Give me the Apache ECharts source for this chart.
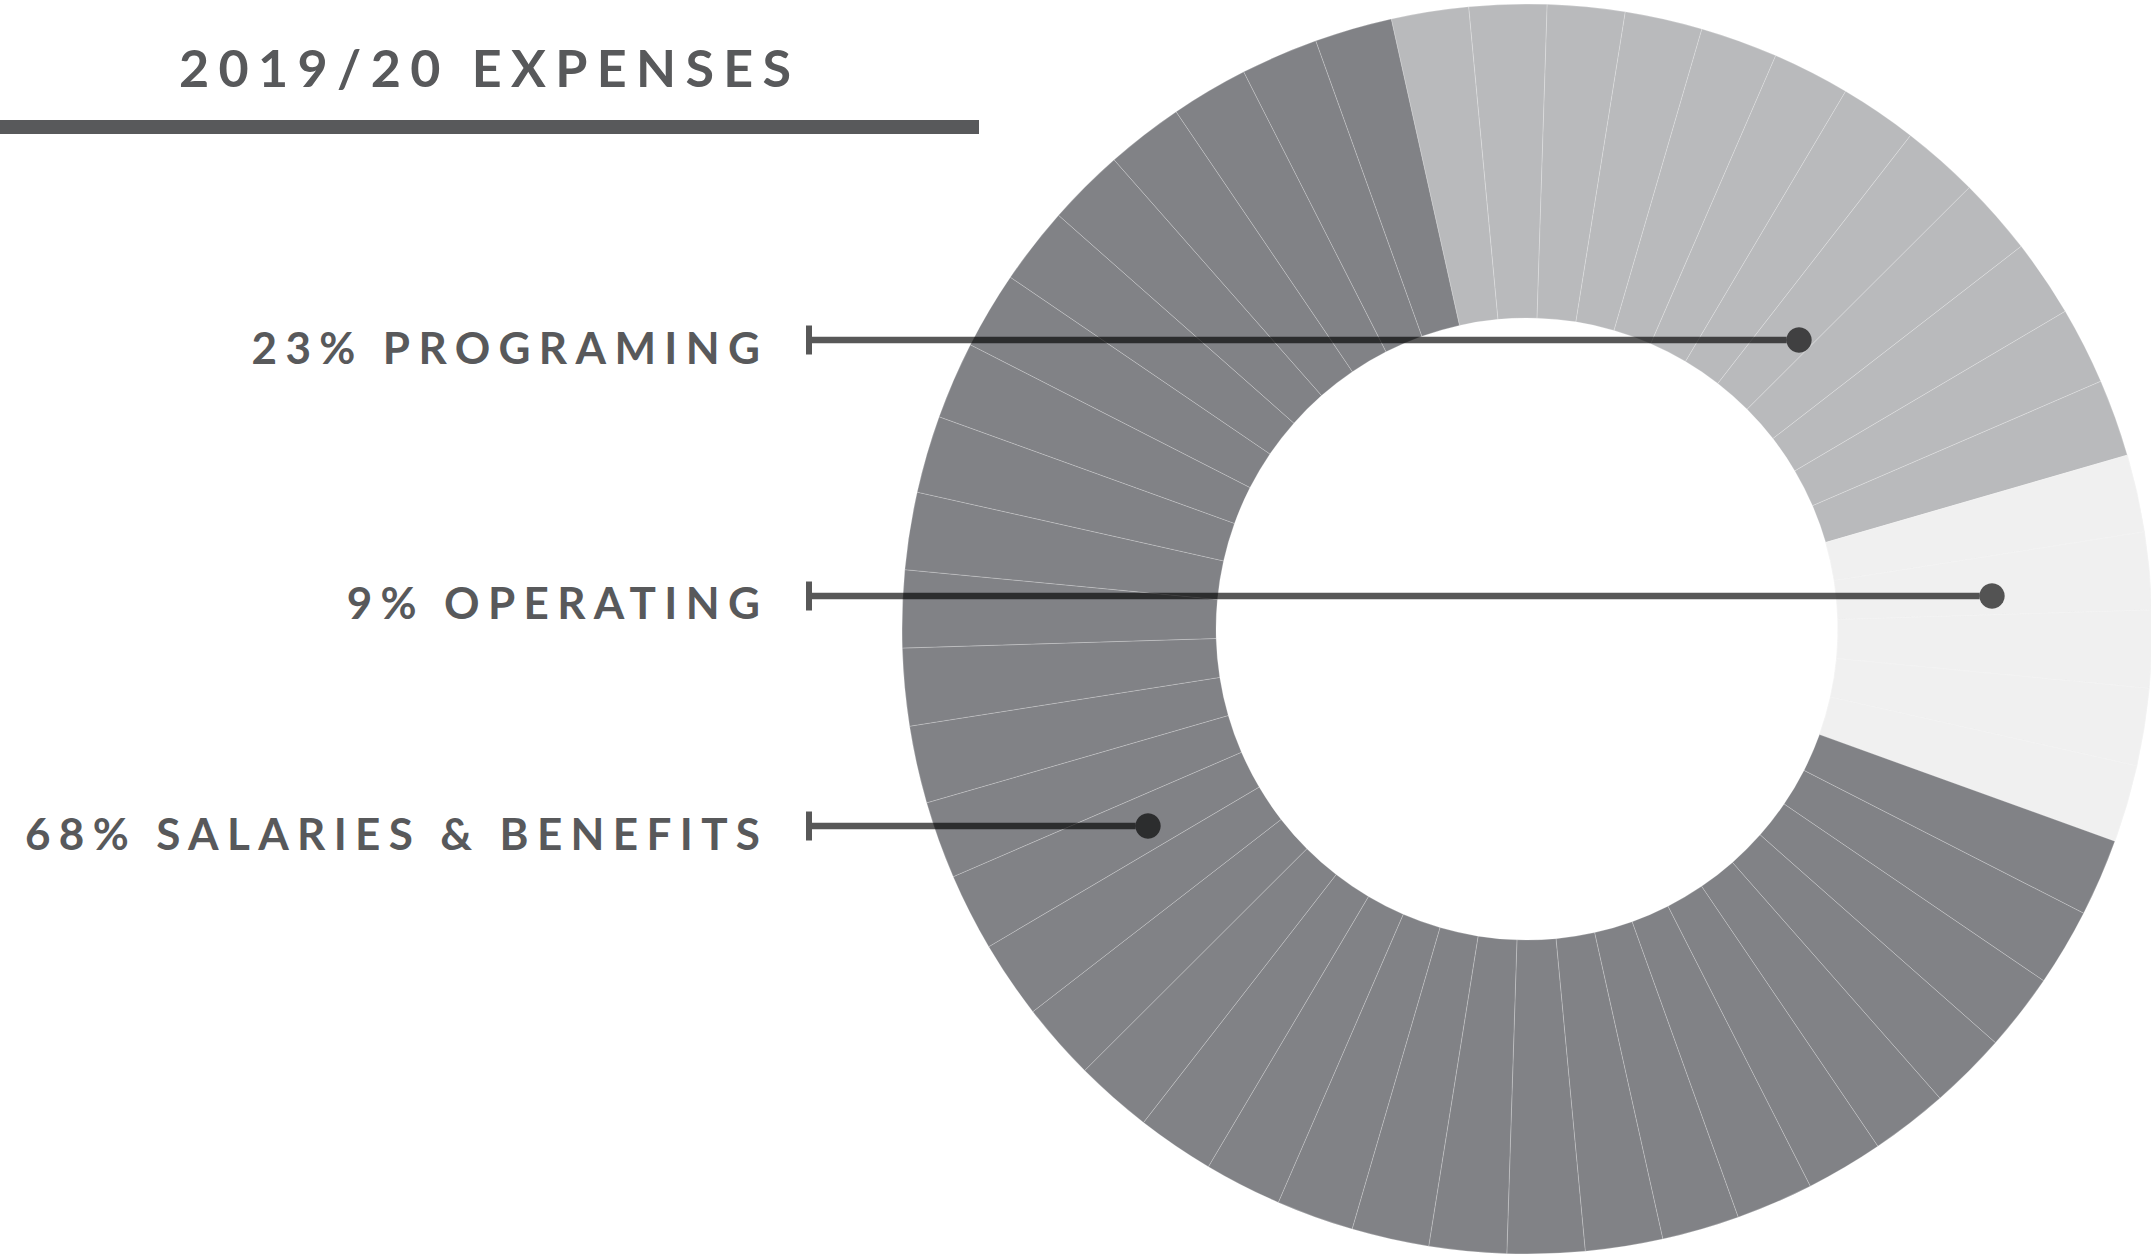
<!DOCTYPE html>
<html>
<head>
<meta charset="utf-8">
<script src="https://cdn.jsdelivr.net/npm/echarts@6/dist/echarts.min.js"></script>
<style>
  html, body { margin: 0; padding: 0; background: #ffffff; }
  #chart { width: 2151px; height: 1256px; }
  #chart text { letter-spacing: 0.19em; }
</style>
</head>
<body>
<div id="chart"></div>
<script>
// ---- data ----
const title = '2019/20 EXPENSES';
const categories = ['SALARIES & BENEFITS', 'PROGRAMING', 'OPERATING'];
const percents = [68, 23, 9];            // printed label values
const sliceCounts = [33, 12, 5];          // thin equal wedges per category, counted on the ring
const ringOrder = [1, 2, 0];              // clockwise order on the ring, starting at upper left
const catColors = ['#818286', '#b9babc', '#f0f0f0'];
const sepColors = ['rgba(255,255,255,0.28)', 'rgba(255,255,255,0.28)', '#f3f3f3'];

// ---- layout ----
const W = 2151, H = 1256;
const center = [1527, 629];
const radii = [311, 625];
const startAngle = 102.55;
const ink = 'rgba(0,0,0,0.655)';
const labelRightX = 760;
const labelYs = [833, 347, 602];          // by category
const lineYs = [826, 340, 596];
const dotXs = [1148, 1799, 1992];
const tickX = 809;

// build wedges (value 1 each) from slice counts
const pieData = [];
ringOrder.forEach(function (ci) {
  for (let k = 0; k < sliceCounts[ci]; k++) {
    pieData.push({ value: 1, name: categories[ci], itemStyle: { color: catColors[ci], borderColor: sepColors[ci] } });
  }
});

const chart = echarts.init(document.getElementById('chart'), null, { renderer: 'svg', width: W, height: H });

const graphics = [];
// title
graphics.push({
  type: 'text', x: 179, y: 67, z: 100,
  style: { text: title, fill: '#58595b', font: '700 52px Lato', textAlign: 'left', textVerticalAlign: 'middle' }
});
graphics.push({
  type: 'rect', z: 100, shape: { x: 0, y: 120, width: 979, height: 14 },
  style: { fill: '#58595b' }
});
categories.forEach(function (c, i) {
  const fs = 44;
  graphics.push({
    type: 'text', x: labelRightX + fs * 0.19, y: labelYs[i], z: 100,
    style: { text: percents[i] + '% ' + c, fill: '#58595b', font: '700 ' + fs + 'px Lato', textAlign: 'right', textVerticalAlign: 'middle' }
  });
  graphics.push({
    type: 'rect', z: 100, shape: { x: tickX - 3, y: lineYs[i] - 14.5, width: 6, height: 29 },
    style: { fill: ink }
  });
  graphics.push({
    type: 'rect', z: 100, shape: { x: tickX + 3, y: lineYs[i] - 3.3, width: dotXs[i] - 12.5 - tickX - 3, height: 6.6 },
    style: { fill: ink }
  });
  graphics.push({
    type: 'circle', z: 100, shape: { cx: dotXs[i], cy: lineYs[i], r: 12.7 },
    style: { fill: ink }
  });
});

chart.setOption({
  animation: false,
  backgroundColor: '#ffffff',
  series: [{
    type: 'pie',
    center: center,
    radius: radii,
    startAngle: startAngle,
    clockwise: true,
    silent: true,
    label: { show: false },
    labelLine: { show: false },
    emphasis: { disabled: true },
    itemStyle: { borderWidth: 0.8 },
    data: pieData
  }],
  graphic: graphics
});

// slightly tighter tracking for the title
document.querySelectorAll('#chart text').forEach(function (t) {
  if (t.textContent === title) t.style.letterSpacing = '0.18em';
});
</script>
</body>
</html>
